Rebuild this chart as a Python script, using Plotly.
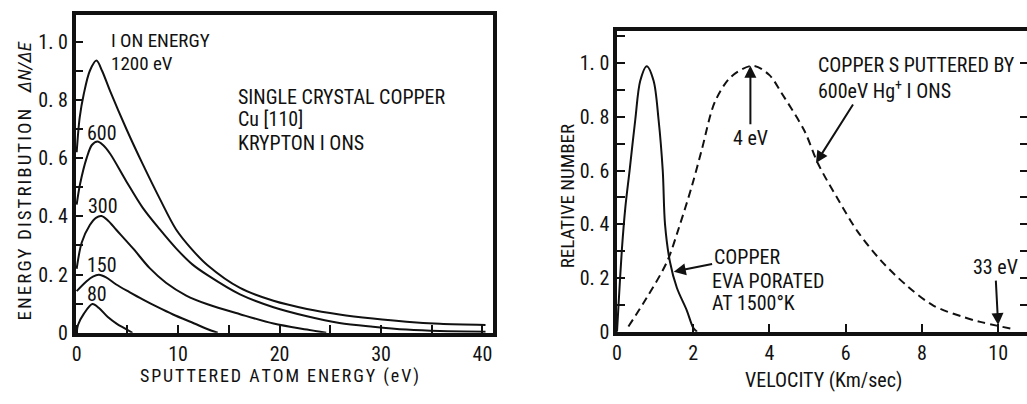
import plotly.graph_objects as go

# ---- Left panel: energy distribution of atoms sputtered from Cu(110) by Kr ions
energy_1200_x = [0, 0.3, 0.7, 1.3, 1.95, 2.5, 3.3, 4.9, 6.5, 8.2, 9.8, 11.4, 12.9, 16.1, 19.4, 22.7, 25.9, 29.2, 32.5, 35.8, 40.3]
energy_1200_y = [0.62, 0.74, 0.82, 0.90, 0.935, 0.90, 0.83, 0.70, 0.58, 0.46, 0.355, 0.285, 0.232, 0.154, 0.11, 0.082, 0.063, 0.049, 0.038, 0.031, 0.027]

energy_600_x = [0, 0.33, 0.98, 1.5, 2.05, 2.6, 3.3, 4.9, 6.5, 8.2, 9.8, 11.4, 12.9, 16.1, 19.4, 22.7, 25.9, 29.2, 32.5, 35.8, 40.3]
energy_600_y = [0.44, 0.51, 0.60, 0.645, 0.657, 0.645, 0.615, 0.52, 0.43, 0.355, 0.29, 0.235, 0.198, 0.132, 0.088, 0.057, 0.034, 0.021, 0.011, 0.006, 0.004]

energy_300_x = [0, 0.5, 1.3, 1.9, 2.45, 3.1, 3.9, 5.6, 7.2, 8.8, 10.8, 12.9, 16.1, 19.4, 22.7, 24.6]
energy_300_y = [0.22, 0.31, 0.37, 0.395, 0.401, 0.385, 0.354, 0.288, 0.222, 0.172, 0.128, 0.098, 0.064, 0.032, 0.011, 0.0]

energy_150_x = [0, 0.98, 1.6, 2.2, 2.9, 3.9, 5.2, 6.5, 8.0, 9.5, 11.6, 12.8, 13.9]
energy_150_y = [0.143, 0.177, 0.193, 0.199, 0.19, 0.166, 0.14, 0.115, 0.088, 0.063, 0.032, 0.014, 0.0]

energy_80_x = [0, 0.13, 0.7, 1.55, 2.2, 3.07, 4.0, 4.7, 5.5]
energy_80_y = [0.0, 0.027, 0.065, 0.099, 0.085, 0.054, 0.03, 0.016, 0.0]

ion_energy_labels = ["600", "300", "150", "80"]
ion_label_x = [2.45, 2.55, 2.45, 1.96]
ion_label_y = [0.687, 0.437, 0.233, 0.133]

left_y_ticks = [0, 0.2, 0.4, 0.6, 0.8, 1.0]
left_y_text = ["0", "0. 2", "0. 4", "0. 6", "0. 8", "1. 0"]
left_x_ticks = [0, 10, 20, 30, 40]

# ---- Right panel: velocity distributions, evaporated vs sputtered copper
evap_v = [0, 0.04, 0.13, 0.22, 0.33, 0.48, 0.61, 0.78, 0.96, 1.09, 1.2, 1.26, 1.39, 1.57, 1.83, 2.0, 2.1]
evap_n = [0.0, 0.1, 0.31, 0.465, 0.6, 0.79, 0.934, 0.988, 0.934, 0.79, 0.6, 0.40, 0.26, 0.164, 0.08, 0.015, 0.0]

sput_v = [0.3, 0.78, 1.31, 1.63, 1.96, 2.22, 2.57, 3.0, 3.57, 4.0, 4.31, 4.92, 5.27, 5.79, 6.31, 6.92, 7.62, 8.31, 9.09, 9.53, 10.0, 10.4]
sput_n = [0.02, 0.127, 0.26, 0.39, 0.54, 0.675, 0.856, 0.95, 0.99, 0.955, 0.89, 0.747, 0.627, 0.495, 0.374, 0.266, 0.17, 0.097, 0.055, 0.037, 0.022, 0.01]

right_y_ticks = [0, 0.2, 0.4, 0.6, 0.8, 1.0]
right_y_text = ["0", "0. 2", "0. 4", "0. 6", "0. 8", "1. 0"]
right_x_ticks = [0, 2, 4, 6, 8, 10]
right_side_ticks = [0.1, 0.2, 0.3, 0.4, 0.5, 0.6, 0.7, 0.8, 1.0]

FONT = "Liberation Sans Narrow, Roboto Condensed, DejaVu Sans Condensed, Arial Narrow, sans-serif"
INK = "#111111"
W = 1027
H = 404


def spaced(text):
    """Typewriter-style letter spacing: hair spaces inside words, en spaces between."""
    words = text.split(" ")
    return "\u2002".join("\u200a".join(w) for w in words)


fig = go.Figure()

line_style = dict(color=INK, width=2, shape="spline", smoothing=0.9)
for xs, ys in [(energy_1200_x, energy_1200_y), (energy_600_x, energy_600_y),
               (energy_300_x, energy_300_y), (energy_150_x, energy_150_y),
               (energy_80_x, energy_80_y)]:
    fig.add_trace(go.Scatter(x=xs, y=ys, mode="lines", line=line_style,
                             xaxis="x", yaxis="y", hoverinfo="skip"))

fig.add_trace(go.Scatter(x=evap_v, y=evap_n, mode="lines", line=line_style,
                         xaxis="x2", yaxis="y2", hoverinfo="skip"))
fig.add_trace(go.Scatter(x=sput_v, y=sput_n, mode="lines",
                         line=dict(color=INK, width=2, dash="8px,5px", shape="spline", smoothing=0.9),
                         xaxis="x2", yaxis="y3", hoverinfo="skip"))

frame = dict(showline=True, linecolor=INK, linewidth=3.5,
             ticks="inside", ticklen=8, tickwidth=2, tickcolor=INK,
             showgrid=False, zeroline=False,
             tickfont=dict(family=FONT, size=20, color=INK))
minor_y = dict(dtick=0.1, ticks="inside", ticklen=8, tickwidth=2, tickcolor=INK)

left_y_range = [0, 1.093]
right_y_range = [0, 1.119]

fig.update_layout(
    width=W, height=H,
    margin=dict(l=0, r=0, t=0, b=0),
    paper_bgcolor="white", plot_bgcolor="white",
    showlegend=False,
    font=dict(family=FONT, size=20, color=INK),
    xaxis=dict(domain=[71 / W, 490 / W], range=[-0.1, 41], anchor="y", mirror=True,
               tickvals=left_x_ticks,
               minor=dict(dtick=5, ticks="inside", ticklen=8, tickwidth=2, tickcolor=INK),
               **frame),
    yaxis=dict(domain=[(H - 343) / H, (H - 15) / H], range=left_y_range, anchor="x", mirror=True,
               tickvals=left_y_ticks, ticktext=left_y_text, minor=minor_y,
               **frame),
    xaxis2=dict(domain=[615 / W, 1.0], range=[0, 10.757], anchor="y2", mirror=True,
                tickvals=right_x_ticks,
                **frame),
    yaxis2=dict(domain=[(H - 342) / H, (H - 32) / H], range=right_y_range, anchor="x2",
                tickvals=right_y_ticks, ticktext=right_y_text, minor=minor_y,
                **frame),
    yaxis3=dict(overlaying="y2", anchor="free", position=1.0, side="right",
                range=right_y_range, showline=False, showgrid=False, zeroline=False,
                ticks="inside", ticklen=7, tickwidth=2, tickcolor=INK,
                tickvals=right_side_ticks, showticklabels=False),
)

ann = []
txt = dict(showarrow=False, font=dict(family=FONT, size=20, color=INK))
title_font = dict(family=FONT, size=19, color=INK)

# Axis titles
ann.append(dict(x=276 / W, y=(H - 387) / H, xref="paper", yref="paper", showarrow=False,
                text=spaced("SPUTTERED ATOM ENERGY (eV)"), font=dict(family=FONT, size=18, color=INK),
                xanchor="center", yanchor="middle"))
ann.append(dict(x=20 / W, y=(H - 186) / H, xref="paper", yref="paper", showarrow=False,
                text=spaced("ENERGY DISTRIBUTION") + "\u2003<i>\u0394N/\u0394E</i>", font=title_font,
                textangle=-90, xanchor="center", yanchor="middle"))
ann.append(dict(x=823 / W, y=(H - 392) / H, xref="paper", yref="paper", showarrow=False,
                text="VELOCITY (Km/sec)", font=dict(family=FONT, size=20, color=INK),
                xanchor="center", yanchor="middle"))
ann.append(dict(x=565 / W, y=(H - 202) / H, xref="paper", yref="paper", showarrow=False,
                text="RELATIVE NUMBER", font=title_font,
                textangle=-90, xanchor="center", yanchor="middle"))

# Left panel labels
small = dict(showarrow=False, font=dict(family=FONT, size=19, color=INK))
ann.append(dict(x=3.2, y=1.005, xref="x", yref="y", text="I ON ENERGY", xanchor="left", **small))
ann.append(dict(x=3.2, y=0.925, xref="x", yref="y", text="1200 eV", xanchor="left", **small))
for t, yy in [("SINGLE CRYSTAL COPPER", 0.81), ("Cu [110]", 0.733), ("KRYPTON I ONS", 0.653)]:
    ann.append(dict(x=15.7, y=yy, xref="x", yref="y", text=t, xanchor="left", **txt))
for t, xx, yy in zip(ion_energy_labels, ion_label_x, ion_label_y):
    ann.append(dict(x=xx, y=yy, xref="x", yref="y", text=t, xanchor="center", **txt))

# Right panel labels
ann.append(dict(x=5.22, y=0.993, xref="x2", yref="y2", text="COPPER S PUTTERED BY", xanchor="left", **txt))
ann.append(dict(x=5.22, y=0.90, xref="x2", yref="y2", text="600eV Hg<sup>+</sup> I ONS", xanchor="left", **txt))
for t, yy in [("EVA PORATED", 0.188), ("AT 1500°K", 0.108)]:
    ann.append(dict(x=2.45, y=yy, xref="x2", yref="y2", text=t, xanchor="left", **txt))

arrow = dict(showarrow=True, arrowhead=2, arrowsize=1.2, arrowwidth=2, arrowcolor=INK,
             xref="x2", yref="y2", font=dict(family=FONT, size=20, color=INK))
# pointer from the sputtering caption down to the dashed curve
ann.append(dict(x=5.22, y=0.628, ax=38, ay=-60, text="", **arrow))
# labelled pointers: the label sits at the arrow's tail
ann.append(dict(x=3.5, y=0.99, ax=0, ay=72, text="4 eV", standoff=0, **arrow))
ann.append(dict(x=10.0, y=0.025, ax=-3, ay=-58, text="33 eV", standoff=0, **arrow))
ann.append(dict(x=1.49, y=0.224, ax=2.45 + 0.95, ay=0.278, axref="x2", ayref="y2",
                text="COPPER", standoff=0, **arrow))

fig.update_layout(annotations=ann)

fig.write_html("out.html")
